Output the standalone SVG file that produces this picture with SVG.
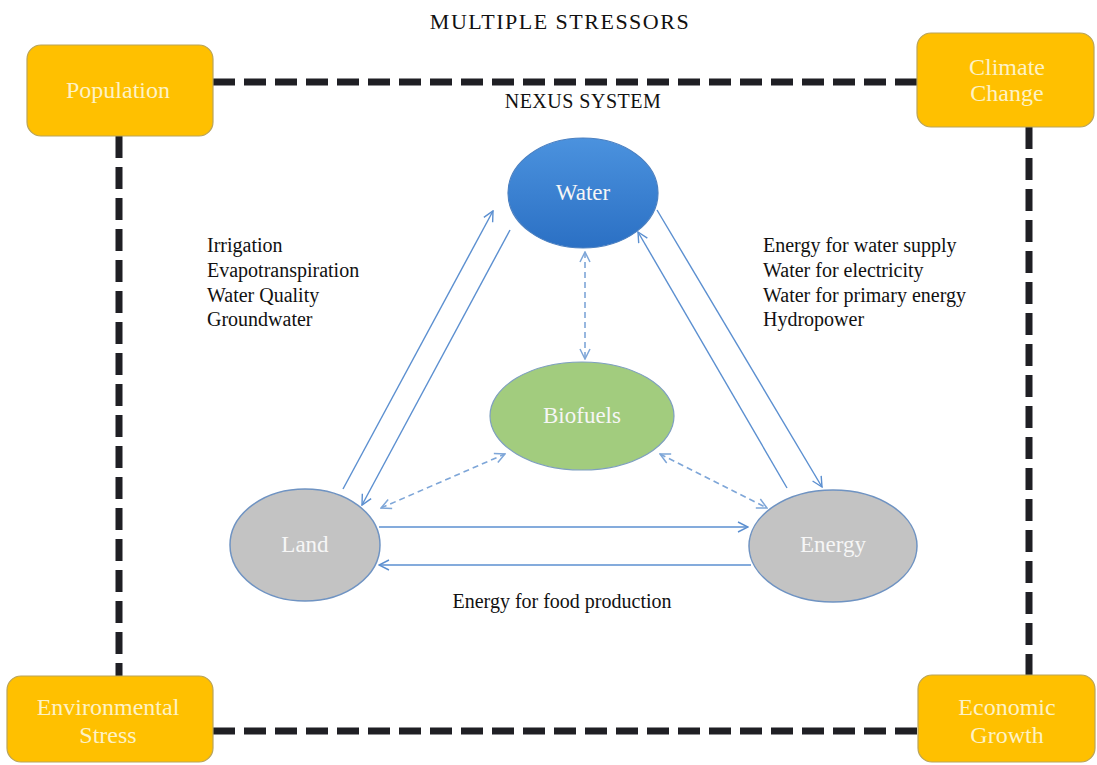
<svg xmlns="http://www.w3.org/2000/svg" width="1097" height="765" viewBox="0 0 1097 765">
<style>
  .title { font-family: "Liberation Serif", "Times New Roman", serif; fill: #111; }
  .side { font-family: "Liberation Serif", "Times New Roman", serif; font-size: 20px; fill: #111; }
  .box { fill: #ffc000; stroke: #b9a45a; stroke-width: 1.2; }
  .boxlbl { font-family: "Liberation Serif", "Times New Roman", serif; font-size: 24px; fill: #fdf2c6; text-anchor: middle; }
  .ellbl { font-family: "Liberation Serif", "Times New Roman", serif; font-size: 23px; fill: #f6f6f6; text-anchor: middle; }
  .frame { stroke: #1f1f24; stroke-width: 7; stroke-dasharray: 22 9; fill: none; }
  .arr { stroke: #5b8fd0; stroke-width: 1.4; fill: none; marker-end: url(#chev); }
  .darr { stroke: #7ea6d8; stroke-width: 1.6; stroke-dasharray: 6 4; fill: none; marker-start: url(#chev2); marker-end: url(#chev2); }
</style>
<defs>
  <marker id="chev" viewBox="0 0 12 12" refX="11" refY="6" markerWidth="12" markerHeight="12" markerUnits="userSpaceOnUse" orient="auto-start-reverse">
    <path d="M1,1 L11,6 L1,11" fill="none" stroke="#5b8fd0" stroke-width="1.4"/>
  </marker>
  <marker id="chev2" viewBox="0 0 12 12" refX="11" refY="6" markerWidth="12" markerHeight="12" markerUnits="userSpaceOnUse" orient="auto-start-reverse">
    <path d="M1,1 L11,6 L1,11" fill="none" stroke="#7ea6d8" stroke-width="1.5"/>
  </marker>
  <linearGradient id="wgrad" x1="0" y1="0" x2="0" y2="1">
    <stop offset="0" stop-color="#4b92de"/>
    <stop offset="1" stop-color="#2b70c4"/>
  </linearGradient>
</defs>
<rect width="1097" height="765" fill="#ffffff"/>

<text class="title" x="560" y="29" font-size="22" letter-spacing="1.5" text-anchor="middle">MULTIPLE STRESSORS</text>
<text class="title" x="583" y="108" font-size="20" letter-spacing="0.5" text-anchor="middle">NEXUS SYSTEM</text>

<g id="frame">
  <line class="frame" x1="213" y1="82" x2="917" y2="82"/>
  <line class="frame" x1="119" y1="136" x2="119" y2="676"/>
  <line class="frame" x1="1029" y1="127" x2="1029" y2="675"/>
  <line class="frame" x1="213" y1="731" x2="918" y2="731"/>
</g>

<g id="population">
  <rect class="box" x="27" y="45" width="186" height="91" rx="14"/>
  <text class="boxlbl" x="118" y="98">Population</text>
</g>
<g id="climate-change">
  <rect class="box" x="917" y="33" width="177" height="94" rx="14"/>
  <text class="boxlbl" x="1007" y="75">Climate</text>
  <text class="boxlbl" x="1007" y="101">Change</text>
</g>
<g id="environmental-stress">
  <rect class="box" x="7" y="676" width="206" height="86" rx="14"/>
  <text class="boxlbl" x="108" y="715">Environmental</text>
  <text class="boxlbl" x="108" y="743">Stress</text>
</g>
<g id="economic-growth">
  <rect class="box" x="918" y="675" width="177" height="87" rx="14"/>
  <text class="boxlbl" x="1007" y="715">Economic</text>
  <text class="boxlbl" x="1007" y="743">Growth</text>
</g>

<g id="connectors">
  <line class="arr" x1="343" y1="489" x2="493" y2="211"/>
  <line class="arr" x1="510" y1="230" x2="362" y2="505"/>
  <line class="arr" x1="657" y1="210" x2="822" y2="487"/>
  <line class="arr" x1="787" y1="488" x2="638" y2="232"/>
  <line class="arr" x1="379" y1="527" x2="748" y2="527"/>
  <line class="arr" x1="751" y1="565" x2="379" y2="565"/>
  <line class="darr" x1="585" y1="252" x2="585" y2="359"/>
  <line class="darr" x1="381" y1="508" x2="505" y2="454"/>
  <line class="darr" x1="660" y1="454" x2="767" y2="508"/>
</g>

<g id="water">
  <ellipse cx="583" cy="193" rx="75" ry="55" fill="url(#wgrad)" stroke="#4a7fc0" stroke-width="1.2"/>
  <text class="ellbl" x="583" y="200">Water</text>
</g>
<g id="biofuels">
  <ellipse cx="582" cy="416" rx="92" ry="54" fill="#a2cc7e" stroke="#7e9fbf" stroke-width="1.2"/>
  <text class="ellbl" x="582" y="423">Biofuels</text>
</g>
<g id="land">
  <ellipse cx="305" cy="545" rx="75" ry="56" fill="#c3c3c3" stroke="#6f93c2" stroke-width="1.5"/>
  <text class="ellbl" x="305" y="552">Land</text>
</g>
<g id="energy">
  <ellipse cx="833" cy="546" rx="84" ry="56" fill="#c3c3c3" stroke="#6f93c2" stroke-width="1.5"/>
  <text class="ellbl" x="833" y="552">Energy</text>
</g>

<g id="labels">
  <text class="side" x="207" y="252">Irrigation</text>
  <text class="side" x="207" y="277">Evapotranspiration</text>
  <text class="side" x="207" y="302">Water Quality</text>
  <text class="side" x="207" y="326">Groundwater</text>
  <text class="side" x="763" y="252">Energy for water supply</text>
  <text class="side" x="763" y="277">Water for electricity</text>
  <text class="side" x="763" y="302">Water for primary energy</text>
  <text class="side" x="763" y="326">Hydropower</text>
  <text class="side" x="562" y="608" text-anchor="middle">Energy for food production</text>
</g>
</svg>
